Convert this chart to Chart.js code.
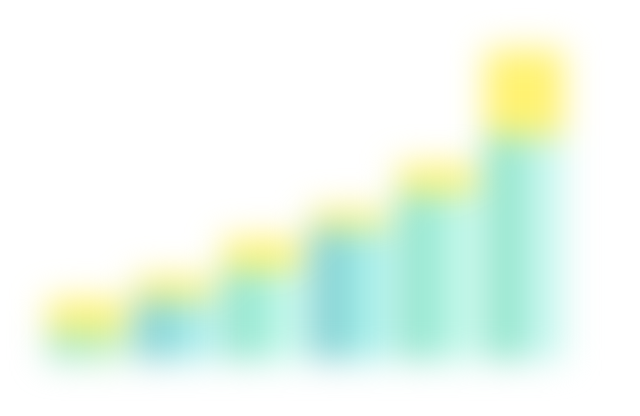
<!DOCTYPE html>
<html lang="en">
<head>
<meta charset="UTF-8" />
<title>Growth bars</title>
<style>
  html,body{margin:0;padding:0;background:#fff;overflow:hidden;}
  #wrap{width:640px;height:416px;}
  canvas{filter:blur(17px);}
</style>
<script src="https://cdn.jsdelivr.net/npm/chart.js"></script>
</head>
<body>
<div id="wrap"><canvas id="chart" width="640" height="416"></canvas></div>
<script>
/* ---- data ---- */
const labels  = ['1', '2', '3', '4', '5', '6'];
const base    = [9, 19, 28, 41, 52, 70];   // teal body
const top_    = [10, 7, 10, 6, 9, 27];     // yellow cap

/* ---- colours ---- */
const darkCol  = ['#a4e8c6', '#86d3d4', '#93e5ce', '#84d2d3', '#93e5ce', '#92e5cc'];
const lightCol = ['#b8f0c4', '#a6ecea', '#bcf7e8', '#a6efea', '#bcf7e8', '#c6f7ef'];
const capCol   = '#fff270';

const ctx = document.getElementById('chart').getContext('2d');
new Chart(ctx, {
  type: 'bar',
  data: {
    labels,
    datasets: [
      {data: base, backgroundColor: darkCol,  stack: 'L'},
      {data: top_, backgroundColor: capCol,   stack: 'L'},
      {data: base, backgroundColor: lightCol, stack: 'R'},
      {data: top_, backgroundColor: capCol,   stack: 'R'}
    ]
  },
  options: {
    responsive: false,
    animation: false,
    layout: {padding: {left: 43, right: 72, top: 40, bottom: 56}},
    datasets: {bar: {categoryPercentage: 0.9, barPercentage: 1.0, borderWidth: 0}},
    plugins: {legend: {display: false}, tooltip: {enabled: false}},
    scales: {
      x: {display: false, stacked: true},
      y: {display: false, stacked: true, min: 0, max: 100}
    }
  }
});
</script>
</body>
</html>
